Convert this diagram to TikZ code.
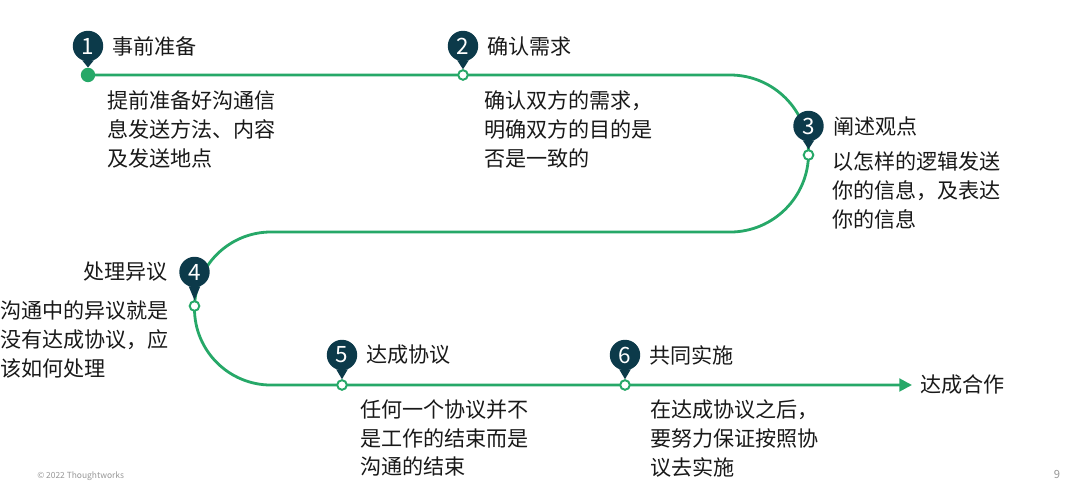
\documentclass[tikz,border=0pt]{standalone}
\usepackage{fontspec}
\setmainfont{Noto Sans CJK SC}
\usetikzlibrary{positioning,arrows.meta}
\definecolor{twgreen}{RGB}{38,168,104}
\definecolor{twdark}{RGB}{12,58,74}
\definecolor{twgray}{RGB}{150,150,150}
\definecolor{twtext}{RGB}{25,25,25}

\tikzset{
  marker/.style={circle, fill=twdark, text=white, minimum size=0.76cm, inner sep=0pt, font=\fontsize{16}{16}\selectfont},
  spot/.style={circle, draw=twgreen, fill=white, line width=1.4pt, minimum size=0.24cm, inner sep=0pt},
  title/.style={font=\fontsize{15}{18}\selectfont, text=twtext, inner sep=0pt},
  body/.style={font=\fontsize{15}{20.6}\selectfont, align=left, inner sep=0pt, text=twtext, anchor=north west},
}

\begin{document}
\begin{tikzpicture}[x=0.025cm, y=0.025cm]
  \useasboundingbox (0,0) rectangle (1080,499);

  % spots on the road
  \coordinate (d1) at (88,424);
  \coordinate (d2) at (463,424);
  \coordinate (d3) at (808.5,344);
  \coordinate (d4) at (194.5,193);
  \coordinate (d5) at (342,114);
  \coordinate (d6) at (625,114);
  \coordinate (goalend) at (912,114);

  % the road
  \draw[twgreen, line width=2pt, -{Triangle[length=9pt,width=9pt]}]
    (d1) -- (730,424) arc[start angle=90, end angle=-90, radius=1.9625cm]
    -- (271,267) arc[start angle=90, end angle=270, radius=1.9125cm]
    -- (goalend);

  \node[circle, fill=twgreen, minimum size=0.36cm, inner sep=0pt] (s1) at (d1) {};
  \foreach \i in {2,...,6} {
    \node[spot] (s\i) at (d\i) {};
  }

  % markers
  \node[marker] (m1) at (88,453) {1};
  \node[marker] (m2) at (463,453) {2};
  \node[marker] (m3) at (808.5,373) {3};
  \node[marker] (m4) at (194.5,227) {4};
  \node[marker] (m5) at (342,144) {5};
  \node[marker] (m6) at (625,144) {6};
  \foreach \i in {1,...,6} {
    \fill[twdark] (m\i.-112) -- (m\i.-68) -- (s\i.north) -- cycle;
  }

  % titles
  \node[title, right=0.22cm of m1] (t1) {事前准备};
  \node[title, right=0.22cm of m2] (t2) {确认需求};
  \node[title, right=0.22cm of m3] (t3) {阐述观点};
  \node[title, left=0.28cm of m4] (t4) {处理异议};
  \node[title, right=0.22cm of m5] (t5) {达成协议};
  \node[title, right=0.22cm of m6] (t6) {共同实施};
  \node[title, anchor=west] (goal) at (920,114) {达成合作};

  % descriptions
  \node[body] (b1) at (107,409) {提前准备好沟通信\\息发送方法、内容\\及发送地点};
  \node[body] (b2) at (484,409) {确认双方的需求，\\明确双方的目的是\\否是一致的};
  \node[body] (b3) at (832,348) {以怎样的逻辑发送\\你的信息，及表达\\你的信息};
  \node[body] (b4) at (0,199) {沟通中的异议就是\\没有达成协议，应\\该如何处理};
  \node[body] (b5) at (360,100) {任何一个协议并不\\是工作的结束而是\\沟通的结束};
  \node[body] (b6) at (650,100) {在达成协议之后，\\要努力保证按照协\\议去实施};

  % footer
  \node[font=\fontsize{6}{7}\selectfont, text=twgray, anchor=west, inner sep=0pt] (copy) at (37,23) {© 2022 Thoughtworks};
  \node[font=\fontsize{8}{9}\selectfont, text=twgray, inner sep=0pt] (page) at (1057,25) {9};
\end{tikzpicture}
\end{document}
